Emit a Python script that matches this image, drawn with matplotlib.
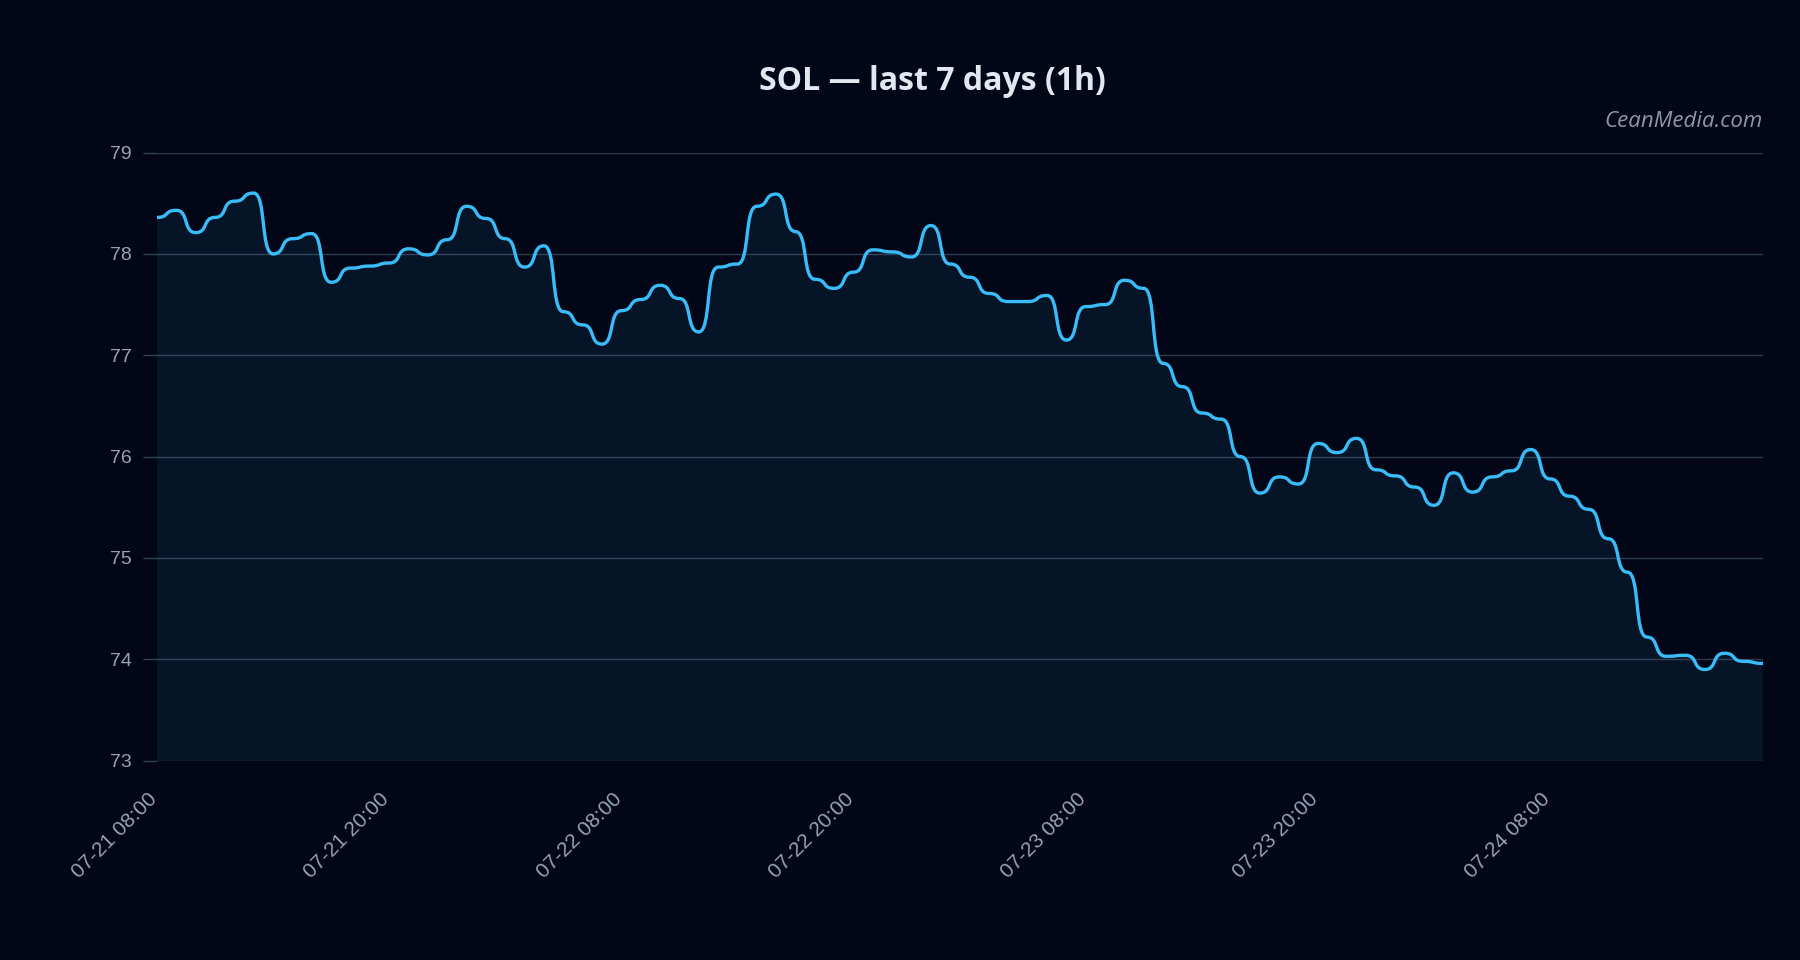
"""
SOL hourly price, last days, dark theme.
"""

from datetime import datetime, timedelta

import matplotlib
matplotlib.use('Agg')
import matplotlib.dates as mdates
import matplotlib.pyplot as plt
import matplotlib.transforms as mtransforms
from matplotlib.patches import PathPatch
from matplotlib.path import Path

# Data (hourly closes)
# ----------------------------------------------------------------------------

start = datetime(2025, 7, 21, 8, 0)

prices = [
    78.36, 78.43, 78.21, 78.36, 78.52, 78.60, 78.00, 78.15, 78.20, 77.72,
    77.86, 77.88, 77.91, 78.05, 77.99, 78.14, 78.47, 78.35, 78.15, 77.87,
    78.08, 77.43, 77.30, 77.11, 77.44, 77.55, 77.69, 77.56, 77.23, 77.87,
    77.90, 78.47, 78.59, 78.22, 77.75, 77.66, 77.82, 78.04, 78.02, 77.97,
    78.28, 77.90, 77.77, 77.61, 77.53, 77.53, 77.59, 77.15, 77.48, 77.50,
    77.74, 77.66, 76.92, 76.69, 76.43, 76.37, 76.00, 75.64, 75.80, 75.73,
    76.13, 76.04, 76.18, 75.87, 75.81, 75.70, 75.52, 75.84, 75.65, 75.80,
    75.86, 76.07, 75.78, 75.61, 75.48, 75.19, 74.86, 74.22, 74.03, 74.04,
    73.90, 74.06, 73.98, 73.96,
]

times = [start + timedelta(hours=i) for i in range(len(prices))]

title = 'SOL — last 7 days (1h)'
watermark = 'CeanMedia.com'
y_limits = (73, 79)
y_ticks = [73, 74, 75, 76, 77, 78, 79]

# Colours
bg = '#020617'
line_color = '#38bdf8'
grid_color = '#334155'
text_color = '#94a3b8'
title_color = '#e2e8f0'


def smooth_path(xs, ys, k=0.65):
    """Cubic bezier through the points with flat tangents at each point."""
    verts = [(xs[0], ys[0])]
    codes = [Path.MOVETO]
    for i in range(len(xs) - 1):
        h = xs[i + 1] - xs[i]
        verts += [(xs[i] + h * k, ys[i]), (xs[i + 1] - h * k, ys[i + 1]),
                  (xs[i + 1], ys[i + 1])]
        codes += [Path.CURVE4] * 3
    return verts, codes


# Plot
# ----------------------------------------------------------------------------

fig = plt.figure(figsize=(18, 9.6), dpi=100, facecolor=bg)
ax = fig.add_axes([0.0872, 0.2076, 0.8922, 0.6335], facecolor=bg)

ax.set_xlim(times[0], times[-1])
ax.set_ylim(*y_limits)

xs = mdates.date2num(times)
verts, codes = smooth_path(xs, prices)

fill_verts = verts + [(xs[-1], y_limits[0]), (xs[0], y_limits[0]), verts[0]]
fill_codes = codes + [Path.LINETO, Path.LINETO, Path.CLOSEPOLY]
ax.add_patch(PathPatch(Path(fill_verts, fill_codes), facecolor=line_color,
                       alpha=0.08, edgecolor='none', zorder=1))
ax.add_patch(PathPatch(Path(verts, codes), facecolor='none',
                       edgecolor=line_color, lw=2.4, capstyle='round',
                       joinstyle='round', zorder=3))

ax.set_yticks(y_ticks)
ax.grid(axis='y', color=grid_color, lw=1.0, alpha=0.9, zorder=0)
ax.set_axisbelow(True)
for s in ax.spines.values():
    s.set_visible(False)

ax.xaxis.set_major_locator(mdates.HourLocator(byhour=[8, 20]))
ax.xaxis.set_major_formatter(mdates.DateFormatter('%m-%d %H:%M'))

ax.tick_params(axis='y', colors=grid_color, length=10, width=1.0, pad=8,
               labelcolor=text_color, labelsize=14)
ax.tick_params(axis='x', length=0, pad=21, labelcolor=text_color,
               labelsize=15)
shift = mtransforms.ScaledTranslation(4 / 100, 0, fig.dpi_scale_trans)
for lbl in ax.get_yticklabels() + ax.get_xticklabels():
    lbl.set_family('Liberation Sans')
for lbl in ax.get_xticklabels():
    lbl.set_rotation(45)
    lbl.set_ha('right')
    lbl.set_transform(lbl.get_transform() + shift)

fig.text(0.518, 0.906, title, ha='center', va='baseline', fontsize=23,
         fontweight='bold', family='Open Sans', color=title_color)
fig.text(0.9794, 0.868, watermark, ha='right', va='baseline', fontsize=16,
         style='italic', family='Open Sans', color='#8f97a6')

fig.savefig('out.png', dpi=100, facecolor=bg)
